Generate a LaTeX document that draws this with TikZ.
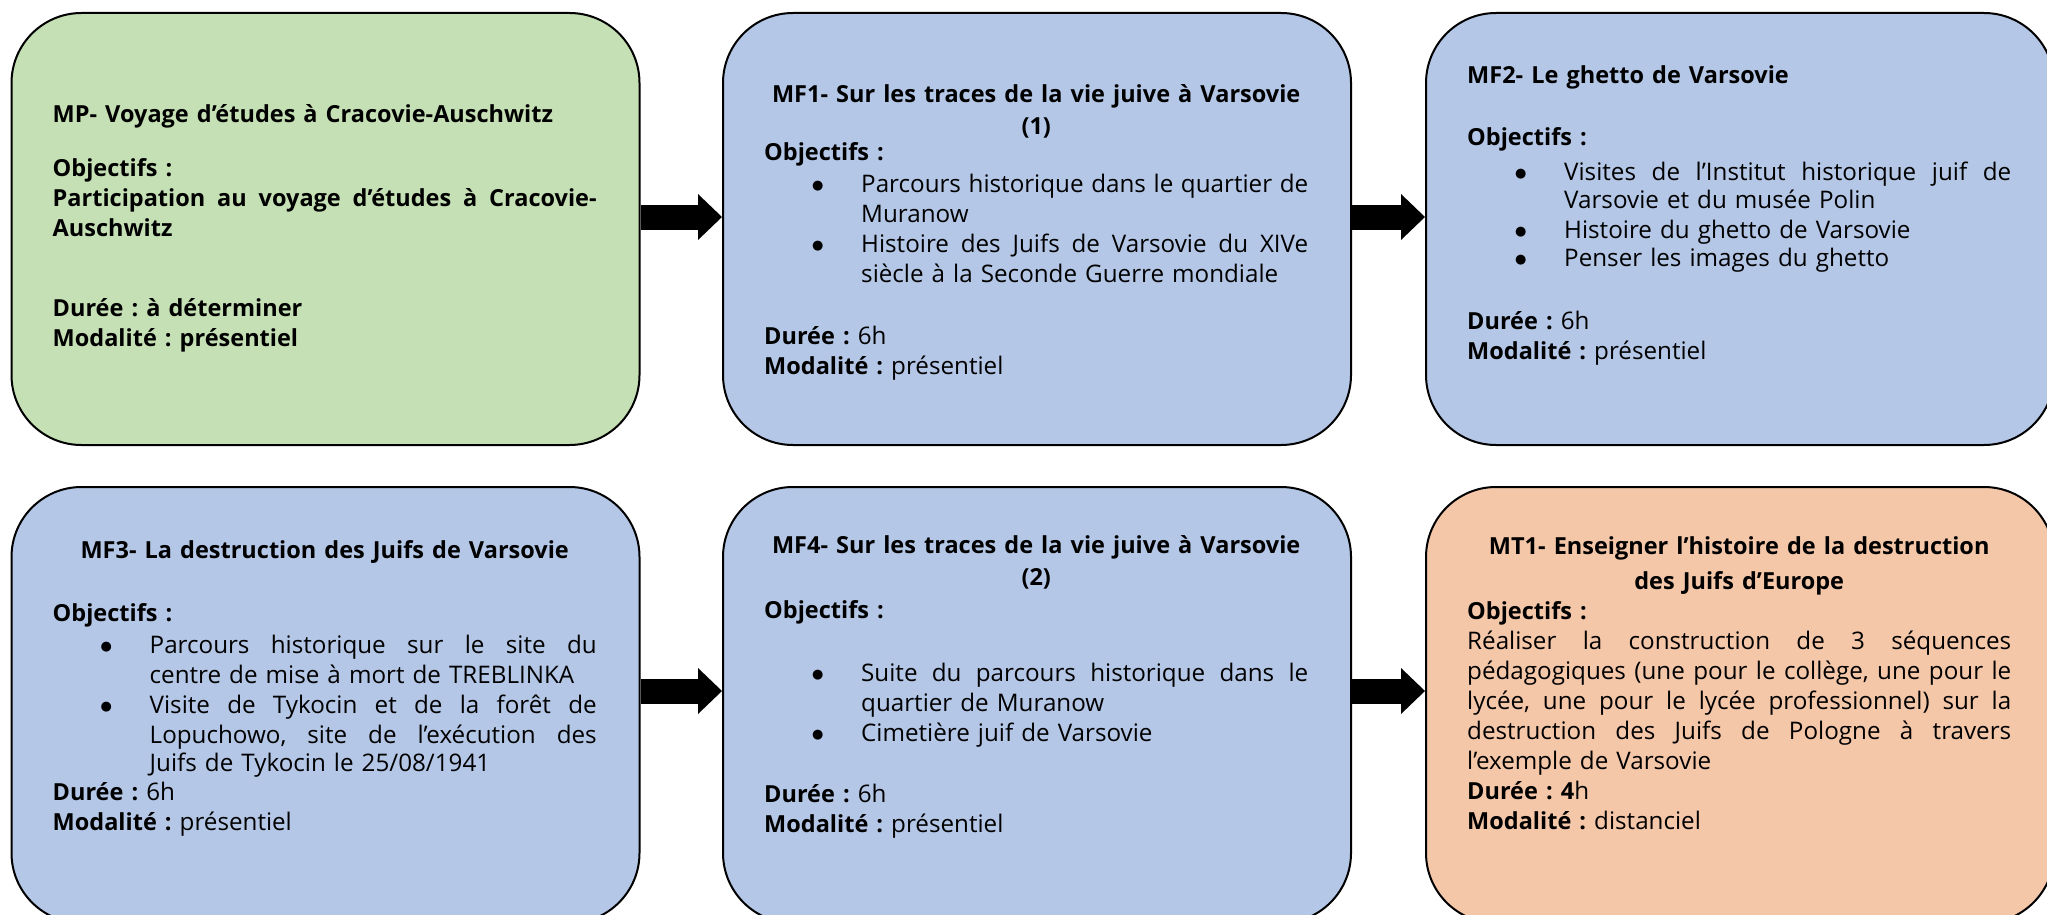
\documentclass[tikz,border=0pt]{standalone}
\usepackage{fontspec}
\setmainfont{Open Sans}[BoldFeatures={Scale=0.971}]
\newfontfamily\symb{DejaVu Sans}
\usetikzlibrary{positioning,arrows.meta}
\setlength{\parindent}{0pt}
\definecolor{vertmp}{HTML}{C5E0B4}
\definecolor{bleumf}{HTML}{B4C7E7}
\definecolor{orangemt}{HTML}{F5C7A9}
\newcommand{\puce}{\hspace*{48pt}\makebox[49pt][l]{\raisebox{3pt}{\symb\fontsize{13}{13}\selectfont ●}}}
\newcommand{\suite}{\hspace*{97pt}}
\newcommand{\titre}[1]{\makebox[544pt]{\bfseries #1}}
\newcommand{\plein}[1]{\makebox[544pt][s]{\spaceskip=.25em plus 1fil minus .1em\relax #1}}
\newcommand{\pplein}[1]{\makebox[447pt][s]{\spaceskip=.25em plus 1fil minus .1em\relax #1}}
\newcommand{\haut}{\rule{0pt}{22pt}}

\begin{document}
\begin{tikzpicture}[x=1pt,y=1pt,
    module/.style={draw=black, line width=2pt, rounded corners=70pt, minimum width=628pt, inner sep=0pt},
    contenu/.style={inner sep=0pt, text width=544pt, align=left, font=\fontsize{24.2}{30}\selectfont\frenchspacing},
    fleche/.style={line width=25pt, -{Triangle[length=24pt,width=46pt,line width=0pt]}}]
  \useasboundingbox (0,0) rectangle (2047,-915);
  \clip (0,0) rectangle (2047,-915);
      % first row
  \node[module, minimum height=432pt, fill=vertmp] (mp) at (325.5,-229) {};
  \node[module, minimum height=432pt, fill=bleumf] (mf1) at (1037,-229) {};
  \node[module, minimum height=432pt, fill=bleumf] (mf2) at (1740,-229) {};
      % second row
  \node[module, minimum height=436pt, fill=bleumf] (mf3) at (325.5,-705) {};
  \node[module, minimum height=436pt, fill=bleumf] (mf4) at (1037,-705) {};
  \node[module, minimum height=436pt, fill=orangemt] (mt1) at (1740,-705) {};

  \foreach \a/\b/\s in {mp/mf1/12,mf1/mf2/12,mf3/mf4/14,mf4/mt1/14}
  {
    \draw[fleche] ([yshift=\s pt]\a.east) -- ([yshift=\s pt]\b.west);
  }

      % MP
  \node[contenu, below right=88pt and 42pt of mp.north west] (mptxt) {\haut\textbf{MP- Voyage d’études à Cracovie-Auschwitz}\\[24pt]
    \textbf{Objectifs :}\\
    \plein{\bfseries Participation au voyage d’études à Cracovie-}\\
    \textbf{Auschwitz}\\[50pt]
    \textbf{Durée : à déterminer}\\
    \textbf{Modalité : présentiel}};
      % MF1
  \node[contenu, below right=68pt and 42pt of mf1.north west] (mf1txt) {\haut\titre{MF1- Sur les traces de la vie juive à Varsovie}\\[2pt]
    \titre{(1)}\\[-4pt]
    \textbf{Objectifs :}\\[2pt]
    \puce\pplein{Parcours historique dans le quartier de}\\
    \suite Muranow\\
    \puce\pplein{Histoire des Juifs de Varsovie du XIVe}\\
    \suite siècle à la Seconde Guerre mondiale\\[32pt]
    \textbf{Durée :} 6h\\
    \textbf{Modalité :} présentiel};
      % MF2
  \node[contenu, below right=49pt and 42pt of mf2.north west] (mf2txt) {\haut\textbf{MF2- Le ghetto de Varsovie}\\[32pt]
    \textbf{Objectifs :}\\[5pt]
    \puce\pplein{Visites de l’Institut historique juif de}\\[-2pt]
    \suite Varsovie et du musée Polin\\
    \puce Histoire du ghetto de Varsovie\\[-2pt]
    \puce Penser les images du ghetto\\[33pt]
    \textbf{Durée :} 6h\\
    \textbf{Modalité :} présentiel};
      % MF3
  \node[contenu, below right=50pt and 42pt of mf3.north west] (mf3txt) {\haut\titre{MF3- La destruction des Juifs de Varsovie}\\[33pt]
    \textbf{Objectifs :}\\[2pt]
    \puce\pplein{Parcours historique sur le site du}\\
    \suite centre de mise à mort de TREBLINKA\\
    \puce\pplein{Visite de Tykocin et de la forêt de}\\
    \suite\pplein{Lopuchowo, site de l’exécution des}\\[-2pt]
    \suite Juifs de Tykocin le 25/08/1941\\[-1pt]
    \textbf{Durée :} 6h\\
    \textbf{Modalité :} présentiel};
      % MF4
  \node[contenu, below right=45pt and 42pt of mf4.north west] (mf4txt) {\haut\titre{MF4- Sur les traces de la vie juive à Varsovie}\\[2pt]
    \titre{(2)}\\[3pt]
    \textbf{Objectifs :}\\[33pt]
    \puce\pplein{Suite du parcours historique dans le}\\
    \suite quartier de Muranow\\
    \puce Cimetière juif de Varsovie\\[31pt]
    \textbf{Durée :} 6h\\
    \textbf{Modalité :} présentiel};
      % MT1
  \node[contenu, below right=46pt and 42pt of mt1.north west] (mt1txt) {\haut\titre{MT1- Enseigner l’histoire de la destruction}\\[5pt]
    \titre{des Juifs d’Europe}\\[0pt]
    \textbf{Objectifs :}\\
    \plein{Réaliser la construction de 3 séquences}\\
    \plein{pédagogiques (une pour le collège, une pour le}\\
    \plein{lycée, une pour le lycée professionnel) sur la}\\
    \plein{destruction des Juifs de Pologne à travers}\\
    l’exemple de Varsovie\\
    \textbf{Durée : 4}h\\
    \textbf{Modalité :} distanciel};
\end{tikzpicture}
\end{document}
